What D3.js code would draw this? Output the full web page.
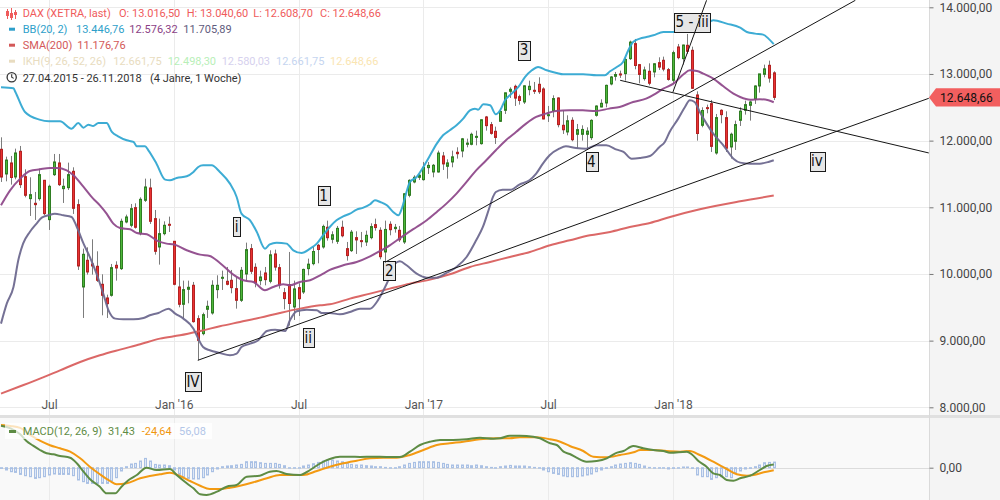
<!DOCTYPE html>
<html><head><meta charset="utf-8">
<script src="https://cdn.jsdelivr.net/npm/d3@7"></script>
<style>
html,body{margin:0;padding:0;background:#fff;}
svg{display:block;font-family:Roboto,"Open Sans",Arial,sans-serif;}
</style></head><body>
<svg id="chart" width="1000" height="500"></svg>
<script>
// ================= DATA =================
const firstWeek = "2015-04-27"; // weekly candles, one per week from here
const opens = [11870,11500,11665,11455,11840,11460,11130,11060,11130,11405,
10815,11490,11665,11280,11295,11540,11040,9805,10205,10150,
10115,9845,9640,9680,10130,10080,10780,10730,10995,10605,
11105,11290,10830,10405,10605,10745,10490,9805,9545,9770,
9830,9330,9105,9470,9415,9765,9940,9890,9905,9780,
9605,10000,10380,10100,9900,10015,9890,10300,10095,9720,
9840,9505,9795,9730,10080,10155,10430,10405,10700,10520,
10490,10700,10380,10350,10545,10500,10480,10545,10740,10655,
10330,10745,10680,10655,10480,11180,11380,11450,11415,11595,
11530,11530,11770,11615,11680,11825,11845,11945,11945,12050,
11955,12355,12240,12140,12290,12455,12740,12815,12660,12580,
12765,12755,12845,12775,12375,12450,12640,12230,12130,12305,
12095,12095,12095,12045,12380,12505,12565,12850,12965,13000,
13005,13230,13455,13140,12930,13040,13030,13170,13205,13065,
12905,13405,13230,13430,13355,12685,12230,12495,12555,11815,
12455,12345,11905,11990,12305,12455,12530,12620,12820,12995,
13130,13016.50];
const highs = [12050,11760,11770,11880,11920,11570,11450,11230,11580,11410,
11340,11800,11800,11430,11670,11600,11120,10380,10400,10520,
10340,9995,9690,10150,10190,10830,10890,11050,11060,11150,
11430,11430,10960,10830,10790,10860,10490,10100,9900,9900,
9880,9380,9420,9600,9905,9980,10050,10105,10060,9955,
10105,10470,10450,10160,10050,10105,10355,10365,10150,9790,
10330,9900,9860,10080,10230,10405,10450,10740,10800,10640,
10720,10800,10480,10660,10640,10630,10650,10760,10830,10700,
10800,10790,10750,10720,11210,11420,11480,11500,11680,11680,
11650,11850,11830,11720,11850,11900,12040,12030,12120,12150,
12320,12370,12280,12210,12480,12720,12800,12840,12690,12830,
12900,12880,12950,12800,12520,12680,12650,12450,12380,12350,
12250,12230,12200,12320,12530,12620,12840,12970,13030,13050,
13250,13500,13525,13150,13110,13160,13160,13250,13260,13090,
13350,13450,13440,13600,13410,12740,12500,12540,12610,12400,
12470,12440,12120,12300,12500,12600,12600,12830,13000,13140,
13200,13040.60];
const lows = [11380,11390,11340,11420,11290,11150,10870,10810,11100,10880,
10660,11470,11320,11065,11260,10900,10060,9340,9990,9990,
9880,9380,9340,9660,9900,10060,10760,10700,10680,10580,
11080,10750,10290,10140,10580,10630,9830,9500,9335,9560,
9270,8705,9080,9340,9390,9635,9760,9830,9710,9480,
9580,9900,10000,9800,9830,9830,9860,10050,9780,9470,
9226,9310,9370,9700,9980,10130,10160,10380,10500,10460,
10450,10550,10200,10330,10300,10400,10420,10520,10650,10220,
10175,10580,10620,10480,10450,11150,11360,11410,11400,11500,
11450,11520,11560,11430,11600,11730,11750,11900,11930,11930,
11940,12150,12090,11950,12280,12400,12640,12520,12540,12550,
12680,12700,12700,12320,12280,12350,12200,12100,12080,11990,
11880,12000,11870,12010,12360,12500,12500,12830,12900,12940,
12900,13210,13070,12860,12900,12830,12950,13060,13040,12900,
12850,13220,13140,13300,12780,12000,12200,12410,11830,11790,
12260,11830,11730,11860,12220,12390,12300,12550,12720,12950,
12870,12608.70];
const closes = [11454,11709,11447,11815,11340,11180,11190,11040,11490,10905,
11315,11680,11340,11315,11490,10985,10120,10295,10030,10120,
9905,9680,9555,10095,10090,10790,10855,10980,10700,11120,
11305,10790,10340,10605,10730,10740,9845,9545,9765,9800,
9285,9005,9390,9515,9830,9830,9950,9845,9795,9605,
10055,10365,10040,9870,9955,9915,10287,10103,9834,9631,
9557,9776,9629,10068,10147,10337,10367,10713,10544,10588,
10684,10573,10276,10627,10511,10490,10580,10711,10696,10259,
10668,10664,10700,10513,11203,11404,11450,11481,11599,11629,
11630,11814,11651,11666,11757,11804,12027,11963,12095,12064,
12313,12225,12109,12048,12438,12717,12770,12638,12602,12822,
12815,12752,12733,12325,12389,12631,12240,12163,12298,12014,
12165,12168,12143,12304,12519,12560,12829,12955,12992,12991,
13218,13478,13127,12993,13060,12861,13153,13103,13073,12918,
13320,13245,13434,13340,12785,12107,12452,12483,11914,12346,
12390,11886,12096,12241,12442,12540,12580,12820,13001,13077,
12938,12648.66];

// indicator readings: [week index, value]
const bbUpper = [[0,12800],[2.6,12785],[3,12730],[5,12430],[8,12315],[10,12290],[12.3,12290],[14.7,12180],[16.1,12265],[17.2,12195],[18.2,12240],[19.2,12220],[20.3,12265],[22,12265],[23.1,12130],[24.4,12065],[26.2,12005],[27.6,11980],[28.3,11915],[30,11915],[30.7,11855],[32.4,11655],[34.2,11415],[35.2,11405],[36.6,11440],[38.7,11465],[40.1,11530],[41.1,11605],[42.1,11630],[43.9,11630],[45.6,11530],[47.7,11355],[49.1,11155],[50.1,10905],[51.9,10805],[53.3,10630],[55,10380],[56,10445],[57.4,10470],[59.5,10455],[60.9,10355],[62.6,10315],[64.4,10380],[65.8,10455],[67.1,10580],[68.5,10705],[69.9,10805],[71.3,10865],[72.7,10905],[74.1,10965],[75.5,10995],[76.9,11045],[77.9,11105],[79,11080],[80.4,11030],[81.7,10930],[82.8,10880],[83.5,10980],[84.2,11155],[85.2,11380],[86.6,11455],[88,11605],[89.4,11780],[90.8,11955],[92.1,12080],[93.5,12155],[94.9,12230],[96.3,12330],[97.7,12455],[98.75,12480],[99.4,12465],[100.5,12545],[101.9,12530],[103.1,12395],[104,12455],[105,12605],[106.4,12705],[107.8,12805],[109.2,12955],[110.6,13055],[111.9,13105],[113.7,13055],[115.8,13015],[117.1,12995],[121.3,12995],[124.1,12980],[125.8,12980],[126.9,13040],[128.3,13105],[129.6,13180],[130.7,13355],[131.7,13480],[133.1,13530],[134.5,13555],[135.9,13580],[138,13630],[140.8,13630],[143.5,13690],[147,13755],[148.4,13805],[151.2,13755],[154,13695],[155.4,13630],[157.1,13605],[158.8,13590],[159.9,13530],[161,13446.76]];
const bbMiddle = [[0,11030],[1.9,11255],[4,11430],[6,11545],[8.1,11570],[10.2,11590],[11.6,11590],[13.7,11555],[15.1,11480],[17.2,11305],[19.2,11130],[20.6,11030],[22,10905],[23.4,10755],[24.8,10690],[26.9,10670],[28.3,10615],[30.4,10595],[32.4,10505],[34.5,10455],[35.9,10445],[38.7,10355],[41.5,10290],[43.5,10270],[45.6,10165],[48.4,9990],[50.5,9905],[52.6,9880],[55,9755],[56.7,9805],[58.8,9845],[60.2,9830],[62.3,9880],[64.4,9905],[66.5,9980],[68.5,10060],[71.3,10130],[74.1,10180],[76.9,10265],[79,10345],[81,10430],[82.5,10505],[84.5,10605],[86.6,10705],[88.7,10805],[90.8,10930],[92.8,11055],[94.9,11205],[97,11380],[99,11555],[101.1,11705],[103.1,11855],[105.2,12005],[107.3,12130],[109.4,12255],[111.5,12355],[113.5,12405],[115.6,12445],[118.4,12455],[121.2,12455],[123.9,12445],[126.7,12480],[128.9,12505],[131.7,12580],[134.4,12630],[136.4,12705],[138,12780],[140.1,12855],[142.2,12995],[143.5,13055],[145,13045],[146.3,13005],[148.4,12930],[150.5,12815],[152.6,12705],[154,12655],[156.1,12615],[158.1,12620],[159.9,12605],[161,12576.32]];
const bbLower = [[0,9255],[1.2,9555],[2.6,9805],[3.6,10205],[4.6,10455],[6,10630],[7.4,10755],[8.5,10845],[9.9,10880],[11.2,10905],[13,10880],[14.7,10855],[15.8,10705],[17.2,10455],[18.5,10255],[19.9,10005],[21.3,9705],[22.4,9455],[23.8,9330],[25.5,9320],[27.6,9320],[29.7,9340],[31,9380],[32.8,9415],[34.9,9480],[36.3,9405],[38,9330],[40.1,9180],[41.1,9030],[42.1,8905],[43.5,8855],[45.6,8815],[47.7,8780],[49.1,8805],[50.1,8905],[51.9,8955],[53.6,9005],[55.4,9145],[57.1,9165],[59.2,9145],[60.2,9305],[61.6,9440],[63.7,9465],[65.8,9455],[66.8,9415],[68.5,9415],[70.6,9395],[72.7,9430],[74.8,9480],[76.9,9480],[78.3,9580],[79.7,9755],[81,9955],[82.1,10155],[83.1,10190],[84.5,10130],[86.6,10005],[88.7,9945],[90.8,9945],[92.8,10015],[94.9,10105],[97,10255],[99,10505],[100.4,10705],[101.8,11005],[102.5,11155],[103.1,11230],[104.5,11265],[106.3,11265],[108,11340],[110.1,11405],[111.5,11505],[112.9,11655],[114.3,11780],[116.3,11880],[117.7,11915],[119.8,11890],[121.9,11880],[124.1,11930],[126.1,11930],[128.3,11865],[129.7,11830],[131.4,11730],[133.1,11740],[135.2,11770],[137.2,11905],[138.3,11980],[139.3,12130],[141.1,12330],[142.5,12505],[143.5,12605],[144.5,12580],[145.6,12430],[147,12255],[148.4,12105],[150.5,11930],[152.6,11730],[154,11670],[156.1,11655],[158.1,11655],[159.9,11680],[161,11705.89]];
const sma200 = [[0,8205],[4,8315],[8.1,8430],[12.3,8555],[16.5,8680],[20.6,8780],[24.8,8865],[29,8945],[33.1,9030],[37.3,9080],[41.5,9145],[45.6,9215],[49.8,9280],[54,9345],[58.1,9415],[62.3,9480],[66.5,9530],[68.5,9545],[72.7,9630],[76.9,9705],[81,9780],[85.2,9855],[89.4,9915],[93.5,9995],[97.7,10105],[101.9,10180],[106,10255],[110.2,10330],[114.4,10430],[118.5,10505],[122.7,10580],[126.9,10630],[131,10705],[135.2,10765],[139.4,10855],[145.6,10970],[154,11090],[161,11176.76]];
const ikhValues = [12661.75, 12498.30, 12580.03, 12661.75, 12648.66];

const macdLine = [[0,420],[2,394],[4,334],[5.3,267],[6.7,220],[8.1,177],[9.5,144],[10.9,134],[12.3,117],[14.4,100],[15.8,44],[17.2,-40],[18.5,-113],[20.6,-190],[22,-256],[23.8,-256],[25.1,-190],[26.9,-113],[28.3,-73],[30.3,0],[32.4,-23],[35.2,-13],[36.6,-73],[38.7,-156],[40.1,-206],[41.5,-266],[42.8,-273],[45,-240],[47,-190],[49.1,-173],[51.2,-90],[53.9,-80],[56,-40],[57.4,-33],[59.5,-63],[62.3,-73],[64.4,-23],[66.5,44],[68.5,87],[70.6,110],[72.7,110],[74.8,107],[77.6,110],[80.3,107],[83.1,107],[85.2,160],[87.3,227],[89.4,260],[91.5,277],[94.2,277],[97,284],[99.8,300],[102.6,290],[104,294],[106,320],[108.1,320],[110.9,310],[112.3,294],[114.4,244],[115.8,227],[117.2,160],[118.5,137],[119.9,100],[122,60],[124.1,67],[126.2,94],[128,144],[129.7,167],[131.7,217],[133.8,194],[135.9,177],[138,167],[139.4,150],[142.9,160],[143.9,134],[145.3,67],[147,10],[148.4,-56],[149.8,-73],[151.2,-123],[152.6,-130],[154,-106],[156.1,-80],[158.1,-23],[159.5,17],[161,31.43]];
const signalLine = [[0,428],[2,418],[4,398],[6,330],[8.1,270],[10.2,225],[12.3,194],[14.4,160],[16.5,94],[18.5,10],[20.6,-66],[22.7,-133],[24.1,-166],[26.2,-156],[29,-106],[31,-83],[33.1,-66],[35.2,-50],[37.3,-83],[39.4,-133],[41.5,-180],[43.5,-213],[45.6,-213],[47.7,-200],[49.8,-180],[52.6,-146],[55.4,-106],[58.1,-73],[60.9,-73],[63,-73],[65.8,-33],[68.5,10],[71.3,44],[74.1,70],[76.9,94],[79.6,100],[82.4,100],[85.2,127],[88,177],[90.8,227],[93.5,244],[96.3,260],[99.8,284],[103.3,294],[106,294],[108.1,304],[111.6,304],[114.4,284],[116.5,260],[118.5,217],[121.3,167],[123.4,110],[126.2,104],[129,127],[131.8,154],[133.2,177],[136,177],[138.7,167],[141.5,160],[143.5,167],[145.6,127],[148.4,60],[151.2,-13],[153.3,-66],[155.4,-80],[156.8,-73],[158.9,-46],[161,-24.64]];
const macdHist = [-7,-23,-40,-47,-67,-80,-90,-107,-100,-90,
-73,-63,-67,-67,-67,-80,-123,-140,-157,-157,
-157,-157,-157,-133,-100,-33,10,37,43,67,
93,67,33,27,27,20,-23,-67,-90,-107,
-113,-113,-100,-73,-40,-13,10,17,20,27,
33,60,60,60,50,43,43,43,33,20,
0,0,0,17,27,40,53,67,77,77,
67,60,43,33,27,27,20,17,10,10,
3,0,0,10,27,43,53,60,60,60,
60,53,43,33,27,27,27,27,20,27,
20,10,3,0,10,17,23,17,17,17,
10,3,0,-23,-40,-57,-67,-83,-90,-90,
-90,-83,-73,-63,-40,-23,-7,10,27,37,
43,50,43,33,17,3,0,0,0,-13,
-7,0,7,7,-7,-73,-90,-90,-117,-100,
-90,-90,-100,-57,-33,-13,-7,10,27,50,
53,56.08];

const priceTicks = [8000,9000,10000,11000,12000,13000,14000];
const timeTicks = ["2015-07-06","2016-01-04","2016-07-04","2017-01-02","2017-07-03","2018-01-01"];
const timeTickLabels = ["Jul","Jan '16","Jul","Jan '17","Jul","Jan '18"];

// Elliott wave annotations (week index, price) and trend lines
const waveLabels = ["IV","i","ii","1","2","3","4","5 - iii","iv"];
const waveWeek  = [40,49.1,64,67.2,80.9,109,123,144,170];
const wavePrice = [8380,10705,9040,11170,10045,13355,11680,13775,11690];
const trendFrom = [[41,8705],[80,10175],[129,12905],[140,12730]];
const trendTo   = [[193.3,12635],[178,14105],[193.3,11815],[147,14105]];

const dateRangeText = "27.04.2015 - 26.11.2018";
const durationText = "(4 Jahre, 1 Woche)";

// ================= CHART =================
const W = 1000, H = 500, plotR = 929, priceBottom = 415, macdTop = 418;
const svg = d3.select("#chart");
const DAY = 864e5;
const t0 = Date.parse(firstWeek + "T00:00:00Z");
const weekDate = i => new Date(t0 + i * 7 * DAY);

const x = d3.scaleUtc()
  .domain([new Date(Date.UTC(2015,3,25,13)), new Date(Date.UTC(2019,0,9,10))])
  .range([0, plotR]);
const y = d3.scaleLinear().domain([8000, 14000]).range([407.3, 7.3]);
const ym = d3.scaleLinear().domain([-320, 500]).range([499.7, 417.7]);

const de = d3.formatLocale({decimal: ",", thousands: ".", grouping: [3], currency: ["", "€"], minus: "-"});
const f2 = de.format(",.2f");

// backgrounds
svg.append("rect").attr("width", W).attr("height", H).attr("fill", "#fff");
svg.append("rect").attr("x", 0).attr("y", macdTop).attr("width", plotR).attr("height", H - macdTop).attr("fill", "#f9f9f9");
svg.append("rect").attr("x", plotR).attr("y", 0).attr("width", W - plotR).attr("height", H).attr("fill", "#f4f4f4");
svg.append("rect").attr("x", 0).attr("y", priceBottom).attr("width", W).attr("height", macdTop - priceBottom).attr("fill", "#e0e0e0");
svg.append("line").attr("x1", plotR + 0.5).attr("x2", plotR + 0.5).attr("y1", 0).attr("y2", H).attr("stroke", "#dadada");

// grid
const grid = svg.append("g").attr("stroke", "#ebebeb").attr("stroke-width", 1);
priceTicks.forEach(v => {
  const yy = Math.round(y(v)) + 0.5;
  grid.append("line").attr("x1", 0).attr("x2", plotR).attr("y1", yy).attr("y2", yy);
});
const tickDates = timeTicks.map(s => new Date(s + "T00:00:00Z"));
tickDates.forEach(d => {
  const xx = Math.round(x(d)) + 0.5;
  grid.append("line").attr("x1", xx).attr("x2", xx).attr("y1", 0).attr("y2", priceBottom);
  grid.append("line").attr("x1", xx).attr("x2", xx).attr("y1", macdTop).attr("y2", H);
});
svg.append("line").attr("x1", 0).attr("x2", plotR).attr("y1", Math.round(ym(0)) + 0.5).attr("y2", Math.round(ym(0)) + 0.5).attr("stroke", "#dcdcdc");

// clip paths
const defs = svg.append("defs");
defs.append("clipPath").attr("id", "clipP").append("rect").attr("x", 0).attr("y", 0).attr("width", plotR).attr("height", priceBottom);
defs.append("clipPath").attr("id", "clipM").append("rect").attr("x", 0).attr("y", macdTop).attr("width", plotR).attr("height", H - macdTop);

const pg = svg.append("g").attr("clip-path", "url(#clipP)");

// candles
const cg = pg.append("g");
closes.forEach((c, i) => {
  const o = opens[i], hi = highs[i], lo = lows[i];
  const cx = Math.round(x(weekDate(i)));
  const up = c >= o;
  cg.append("line").attr("x1", cx + 0.5).attr("x2", cx + 0.5)
    .attr("y1", y(hi)).attr("y2", y(lo)).attr("stroke", "#7c7c7c").attr("stroke-width", 1);
  const top = y(Math.max(o, c)), bot = y(Math.min(o, c));
  cg.append("rect").attr("x", cx - 0.5).attr("y", top).attr("width", 2)
    .attr("height", Math.max(1, bot - top))
    .attr("fill", up ? "#4db83a" : "#ea3232")
    .attr("stroke", up ? "#2f7d22" : "#b42222").attr("stroke-width", 1);
});

// indicator lines
const line = d3.line().x(d => x(weekDate(d[0]))).y(d => y(d[1])).curve(d3.curveMonotoneX);
[[sma200, "#d9605f"], [bbLower, "#6e698f"], [bbMiddle, "#8f4a8b"], [bbUpper, "#33a8d2"]].forEach(([data, col]) => {
  pg.append("path").attr("d", line(data)).attr("fill", "none").attr("stroke", col)
    .attr("stroke-width", 2).attr("stroke-linejoin", "round").attr("opacity", 0.95);
});

// wave labels
const lg = pg.append("g").attr("font-family", "'Liberation Sans Narrow','DejaVu Sans Condensed','Arial Narrow',sans-serif").attr("font-size", 15);
waveLabels.forEach((t, i) => {
  const cx = x(weekDate(waveWeek[i])), cy = y(wavePrice[i]);
  const g = lg.append("g");
  const r = g.append("rect");
  const tx = g.append("text").attr("x", cx).attr("y", cy + 5).attr("text-anchor", "middle").attr("fill", "#111").text(t);
  const w = tx.node().getComputedTextLength() + 3;
  r.attr("x", Math.round(cx - w / 2) + 0.5).attr("y", Math.round(cy - 9.5) + 0.5).attr("width", Math.round(w)).attr("height", 19)
    .attr("fill", "#e6e6e6").attr("stroke", "#1b1b1b").attr("stroke-width", 1);
});

// trend lines
trendFrom.forEach((a, i) => {
  const b = trendTo[i];
  pg.append("line").attr("x1", x(weekDate(a[0]))).attr("y1", y(a[1]))
    .attr("x2", x(weekDate(b[0]))).attr("y2", y(b[1]))
    .attr("stroke", "#151515").attr("stroke-width", 1);
});

// price axis
const ax = svg.append("g").attr("transform", `translate(${plotR + 0.5},0)`)
  .call(d3.axisRight(y).tickValues(priceTicks).tickFormat(f2).tickSize(4).tickPadding(6));
ax.select(".domain").remove();
ax.selectAll("line").attr("stroke", "#777");
ax.selectAll("text").attr("font-size", 12).attr("fill", "#444").attr("font-family", "Roboto,Arial,sans-serif");

// time axis
const tx = svg.append("g").attr("transform", "translate(0,400)")
  .call(d3.axisBottom(x).tickValues(tickDates).tickFormat((d, i) => timeTickLabels[i]).tickSize(0).tickPadding(0));
tx.select(".domain").remove();
tx.selectAll("text").attr("font-size", 12).attr("fill", "#555").attr("font-family", "Roboto,Arial,sans-serif");

// current price tag
const last = closes.length - 1;
const ty = y(closes[last]);
svg.append("path")
  .attr("d", `M${plotR},${ty} L${plotR + 7},${ty - 9.2} L${W},${ty - 9.2} L${W},${ty + 9.2} L${plotR + 7},${ty + 9.2} Z`)
  .attr("fill", "#f25f5f");
svg.append("text").attr("x", 940).attr("y", ty + 4.3).attr("font-size", 12).attr("fill", "#111")
  .attr("font-family", "Roboto,Arial,sans-serif").text(f2(closes[last]));

// MACD axis
const mx = svg.append("g").attr("transform", `translate(${plotR + 0.5},0)`)
  .call(d3.axisRight(ym).tickValues([0]).tickFormat(f2).tickSize(4).tickPadding(6));
mx.select(".domain").remove();
mx.selectAll("line").attr("stroke", "#777");
mx.selectAll("text").attr("font-size", 12).attr("fill", "#444").attr("font-family", "Roboto,Arial,sans-serif");

// MACD panel
const mg = svg.append("g").attr("clip-path", "url(#clipM)");
macdHist.forEach((v, i) => {
  const cx = Math.round(x(weekDate(i)));
  const y0 = ym(0), y1 = ym(v);
  mg.append("rect").attr("x", cx - 0.5).attr("y", Math.min(y0, y1)).attr("width", 2)
    .attr("height", Math.max(0.5, Math.abs(y1 - y0)))
    .attr("fill", "#dfe8f6").attr("stroke", "#a9c0e4").attr("stroke-width", 1);
});
const mline = d3.line().x(d => x(weekDate(d[0]))).y(d => ym(d[1])).curve(d3.curveMonotoneX);
mg.append("path").attr("d", mline(signalLine)).attr("fill", "none").attr("stroke", "#f39a12").attr("stroke-width", 2);
mg.append("path").attr("d", mline(macdLine)).attr("fill", "none").attr("stroke", "#5e8c45").attr("stroke-width", 2);

// MACD legend
svg.append("rect").attr("x", 5).attr("y", 423).attr("width", 207).attr("height", 16).attr("fill", "#fff").attr("opacity", 0.72);
svg.append("rect").attr("x", 9).attr("y", 430).attr("width", 7).attr("height", 3).attr("fill", "#5e8c45");
const ml = svg.append("g").attr("font-size", 11).attr("font-family", "Roboto,Arial,sans-serif");
const macdLegend = [["MACD(12, 26, 9)", "#5e8c45", 22.7], [de.format(".2f")(macdLine[macdLine.length - 1][1]), "#5e8c45", 108],
  [de.format(".2f")(signalLine[signalLine.length - 1][1]), "#f0960e", 141.7], [de.format(".2f")(macdHist[last]), "#b3c6e8", 179]];
macdLegend.forEach(([t, c, xx]) => ml.append("text").attr("x", xx).attr("y", 435).attr("fill", c).text(t));

// main legend
const leg = svg.append("g").attr("font-size", 11).attr("font-family", "Roboto,Arial,sans-serif");
// candle icon
const ic = leg.append("g").attr("stroke", "#ef5b5b").attr("fill", "#ef5b5b");
[[7, 9, 19, 11, 16], [11, 8, 20, 13, 18], [15, 10, 19, 12, 15]].forEach(([cx, a, b, c, d]) => {
  ic.append("line").attr("x1", cx + 0.5).attr("x2", cx + 0.5).attr("y1", a).attr("y2", b).attr("stroke-width", 1);
  ic.append("rect").attr("x", cx - 1).attr("y", c).attr("width", 3).attr("height", d - c).attr("stroke", "none");
});
const rows = [
  [17.3, [["DAX (XETRA, last)", "#ef5b5b", 22.7], ["O: " + f2(opens[last]), "#ef5b5b", 119], ["H: " + f2(highs[last]), "#ef5b5b", 186.7],
          ["L: " + f2(lows[last]), "#ef5b5b", 253.3], ["C: " + f2(closes[last]), "#ef5b5b", 320]]],
  [33, [["BB(20, 2)", "#2e9fca", 22.7], [f2(bbUpper[bbUpper.length - 1][1]), "#2e9fca", 76], [f2(bbMiddle[bbMiddle.length - 1][1]), "#8b3f86", 129.3],
        [f2(bbLower[bbLower.length - 1][1]), "#5f5b7d", 183.3]]],
  [49, [["SMA(200)", "#d35858", 22.7], [f2(sma200[sma200.length - 1][1]), "#d35858", 77.3]]],
  [65, [["IKH(9, 26, 52, 26)", "#e8dcc0", 22.7], [f2(ikhValues[0]), "#e8dcc0", 113.3], [f2(ikhValues[1]), "#b8efb8", 167.7],
        [f2(ikhValues[2]), "#d6d1ee", 221.7], [f2(ikhValues[3]), "#c5d5f0", 276], [f2(ikhValues[4]), "#fae5b2", 330]]],
  [81.5, [[dateRangeText, "#333", 22.7], [durationText, "#333", 150]]]
];
rows.forEach(([by, segs]) => segs.forEach(([t, c, xx]) => leg.append("text").attr("x", xx).attr("y", by).attr("fill", c).text(t)));
[[29.2, "#2e9fca"], [45.2, "#d35858"], [61.2, "#e8dcc0"]].forEach(([yy, c]) =>
  leg.append("rect").attr("x", 9).attr("y", yy - 1.5).attr("width", 6).attr("height", 3).attr("fill", c));
leg.append("circle").attr("cx", 11.7).attr("cy", 77.2).attr("r", 4.6).attr("fill", "none").attr("stroke", "#333").attr("stroke-width", 1.3);
leg.append("path").attr("d", "M11.7,74.2 L11.7,77.2 L13.7,78.4").attr("fill", "none").attr("stroke", "#333").attr("stroke-width", 1.1);
</script>
</body></html>
